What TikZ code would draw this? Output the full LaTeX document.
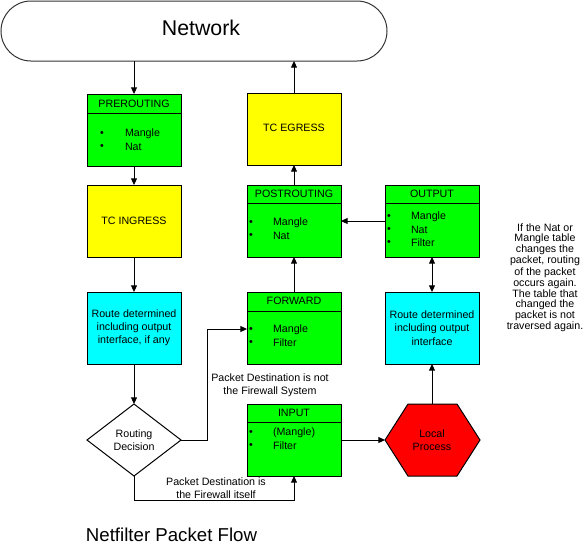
\documentclass[tikz,border=0pt]{standalone}
\usepackage{fontspec}
\setmainfont{Liberation Sans}
\usetikzlibrary{arrows.meta,calc}
\definecolor{pgreen}{RGB}{0,255,0}
\definecolor{pyellow}{RGB}{255,255,0}
\definecolor{pcyan}{RGB}{0,255,255}
\definecolor{pred}{RGB}{255,0,0}
\begin{document}
\begin{tikzpicture}[x=0.75pt,y=-0.75pt,
  every node/.style={inner sep=0pt, outer sep=0pt},
  txt/.style={font=\fontsize{8}{9.9}\selectfont, align=center},
  itm/.style={font=\fontsize{8}{9.9}\selectfont, anchor=west},
  blk/.style={draw=black, line width=0.75pt, minimum width=70.5pt, minimum height=54pt, anchor=north west},
  grnbox/.style={blk, fill=pgreen},
  ylwbox/.style={blk, fill=pyellow},
  cynbox/.style={blk, fill=pcyan},
  ln/.style={draw=black, line width=0.75pt},
  arr/.style={ln, -{Triangle[width=4.5pt,length=5pt]}},
  darr/.style={ln, {Triangle[width=4.5pt,length=5pt]}-{Triangle[width=4.5pt,length=5pt]}}
]
\useasboundingbox (0,0) rectangle (584,547);

% Network
\node[draw=black!80, line width=0.75pt, rounded corners=22.5pt, minimum width=289.5pt, minimum height=45pt, anchor=north west] (net) at (1,1) {};
\node[font=\fontsize{16}{19}\selectfont] (nettxt) at (201,28) {Network};

% PREROUTING
\node[grnbox] (pre) at (87,94) {};
\draw[ln] ($(pre.north west)+(0,19)$) -- ($(pre.north east)+(0,19)$);
\node[txt] (preh) at (134,104) {PREROUTING};
\node[itm] (preb1) at (100,134) {\textbullet};
\node[itm] (preb2) at (100,147) {\textbullet};
\node[itm] (pre1) at (125,134) {Mangle};
\node[itm] (pre2) at (125,147) {Nat};

% TC INGRESS
\node[ylwbox] (tcin) at (87,185) {};
\node[txt] (tcint) at (134,221) {TC INGRESS};

% Route left
\node[cynbox] (rtl) at (87,292) {};
\node[txt] (rtlt) at (134,328) {Route determined\\including output\\interface, if any};

% Routing decision
\node[minimum width=70.5pt, minimum height=54pt] (dec) at (134,440) {};
\draw[ln, fill=white] (dec.north) -- (dec.east) -- (dec.south) -- (dec.west) -- cycle;
\node[txt] (dect) at (134,440) {Routing\\Decision};

% TC EGRESS
\node[ylwbox] (tceg) at (247,93) {};
\node[txt] (tcegt) at (294,128) {TC EGRESS};

% POSTROUTING
\node[grnbox] (post) at (247,185) {};
\draw[ln] ($(post.north west)+(0,18)$) -- ($(post.north east)+(0,18)$);
\node[txt] (posth) at (294,194) {POSTROUTING};
\node[itm] (postb1) at (249,223) {\textbullet};
\node[itm] (postb2) at (249,236) {\textbullet};
\node[itm] (post1) at (273,223) {Mangle};
\node[itm] (post2) at (273,236) {Nat};

% OUTPUT
\node[grnbox] (out) at (385,185) {};
\draw[ln] ($(out.north west)+(0,18)$) -- ($(out.north east)+(0,18)$);
\node[txt] (outh) at (432,194) {OUTPUT};
\node[itm] (outb1) at (387,217) {\textbullet};
\node[itm] (outb2) at (387,230) {\textbullet};
\node[itm] (outb3) at (387,243) {\textbullet};
\node[itm] (out1) at (411,217) {Mangle};
\node[itm] (out2) at (411,230) {Nat};
\node[itm] (out3) at (411,243) {Filter};

% FORWARD
\node[grnbox] (fwd) at (247,292) {};
\draw[ln] ($(fwd.north west)+(0,19)$) -- ($(fwd.north east)+(0,19)$);
\node[txt] (fwdh) at (294,301) {FORWARD};
\node[itm] (fwdb1) at (249,330) {\textbullet};
\node[itm] (fwdb2) at (249,343) {\textbullet};
\node[itm] (fwd1) at (273,330) {Mangle};
\node[itm] (fwd2) at (273,343) {Filter};

% Route right
\node[cynbox] (rtr) at (385,292) {};
\node[txt] (rtrt) at (432,328) {Route determined\\including output\\interface};

% INPUT
\node[grnbox] (inp) at (247,404) {};
\draw[ln] ($(inp.north west)+(0,18)$) -- ($(inp.north east)+(0,18)$);
\node[txt] (inph) at (294,413) {INPUT};
\node[itm] (inpb1) at (249,433) {\textbullet};
\node[itm] (inpb2) at (249,446) {\textbullet};
\node[itm] (inp1) at (273,433) {(Mangle)};
\node[itm] (inp2) at (273,446) {Filter};

% Local Process
\node[minimum width=71.25pt, minimum height=54pt] (lp) at (432.5,440) {};
\draw[ln, fill=pred] (lp.west) -- ($(lp.north west)+(23,0)$) -- ($(lp.north east)+(-23,0)$) -- (lp.east) -- ($(lp.south east)+(-23,0)$) -- ($(lp.south west)+(23,0)$) -- cycle;
\node[txt] (lpt) at (432,440) {Local\\Process};

% Labels
\node[txt] (lblnot) at (270,385) {Packet Destination is not\\the Firewall System};
\node[txt] (lblis) at (216,488) {Packet Destination is\\the Firewall itself};
\node[font=\fontsize{8}{7.1}\selectfont, align=center] (note) at (545,278) {If the Nat or\\Mangle table\\changes the\\packet, routing\\of the packet\\occurs again.\\The table that\\changed the\\packet is not\\traversed again.};
\node[font=\fontsize{14}{17}\selectfont] (title) at (171.5,535) {Netfilter Packet Flow};

% Connectors
\draw[arr] (net.south -| pre.north) -- (pre.north);
\draw[arr] (pre.south) -- (tcin.north);
\draw[arr] (tcin.south) -- (rtl.north);
\draw[arr] (rtl.south) -- (dec.north);
\coordinate (fb) at (207,329);
\draw[arr] (dec.east) -| (fb) -- (fb -| fwd.west);
\coordinate (ib) at (134,500);
\draw[arr] (dec.south) -- (ib) -| (inp.south);
\draw[arr] (inp.east) -- (lp.west);
\draw[arr] (lp.north -| rtr.south) -- (rtr.south);
\draw[darr] (rtr.north) -- (out.south);
\draw[arr] (out.west) -- (post.east);
\draw[arr] (fwd.north) -- (post.south);
\draw[arr] (post.north) -- (tceg.south);
\draw[arr] (tceg.north) -- (tceg.north |- net.south);
\end{tikzpicture}
\end{document}
